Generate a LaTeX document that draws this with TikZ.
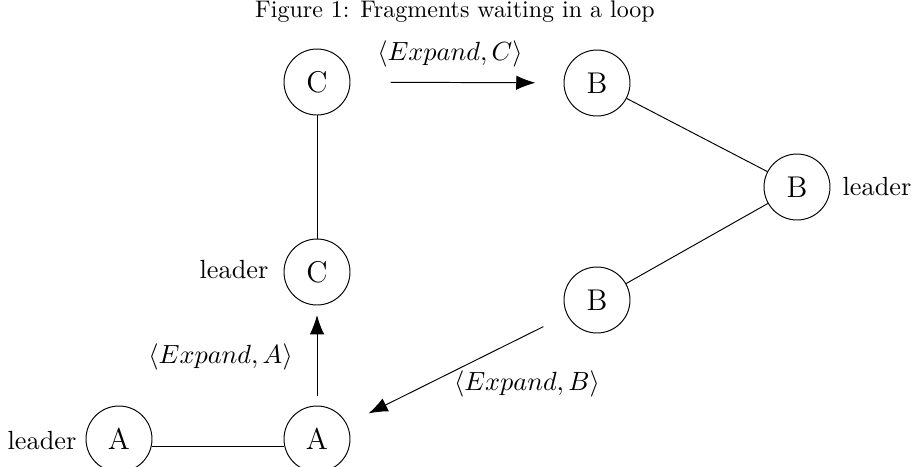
\documentclass[tikz,border=0pt,11pt]{standalone}
\usetikzlibrary{arrows.meta}
\begin{document}
\begin{tikzpicture}[x=0.4167pt,y=0.4167pt,yscale=-1,xscale=1,
    frag/.style={draw,circle,minimum size=27.5pt,inner sep=0pt,font=\fontsize{12.5}{15}\selectfont},
    msg/.style={-{Latex[length=8pt,width=6pt]}}]
        \useasboundingbox (0,0) rectangle (911,466);
        % Text Node
        \draw (455,12) node [font=\small] (title) {Figure 1: Fragments waiting in a loop};
        % Fragment C
        \draw (317,82) node [frag] (c1) {C};
        \draw (317,272) node [frag] (c2) {C};
        % Fragment B
        \draw (597,83) node [frag] (b1) {B};
        \draw (797,187) node [frag] (b2) {B};
        \draw (597,300) node [frag] (b3) {B};
        % Fragment A
        \draw (119,439) node [frag] (a1) {A};
        \draw (317,439) node [frag] (a2) {A};
        % Text Node
        \draw (42,441) node (ldra) {leader};
        \draw (234,270) node (ldrc) {leader};
        \draw (877,187) node (ldrb) {leader};
        \draw (450,54) node (lc) {$\langle Expand, C\rangle$};
        \draw (302,357) node [anchor=east] (la) {$\langle Expand, A\rangle$};
        \draw (527,384) node (lb) {$\langle Expand, B\rangle$};
        % Connection
        \draw (c1) -- (c2);
        \draw (b1) -- (b2);
        \draw (b2) -- (b3);
        \draw ([yshift=3.3pt]a1.east) -- ([yshift=3.3pt]a2.west);
        % Message
        \draw [msg,shorten <=16.7pt,shorten >=11.7pt] (c1) -- (b1);
        \draw [msg,shorten <=4pt,shorten >=4pt] (a2) -- (c2);
        \draw [msg,shorten <=11pt,shorten >=10pt] (b3) -- (a2);
    \end{tikzpicture}
\end{document}
